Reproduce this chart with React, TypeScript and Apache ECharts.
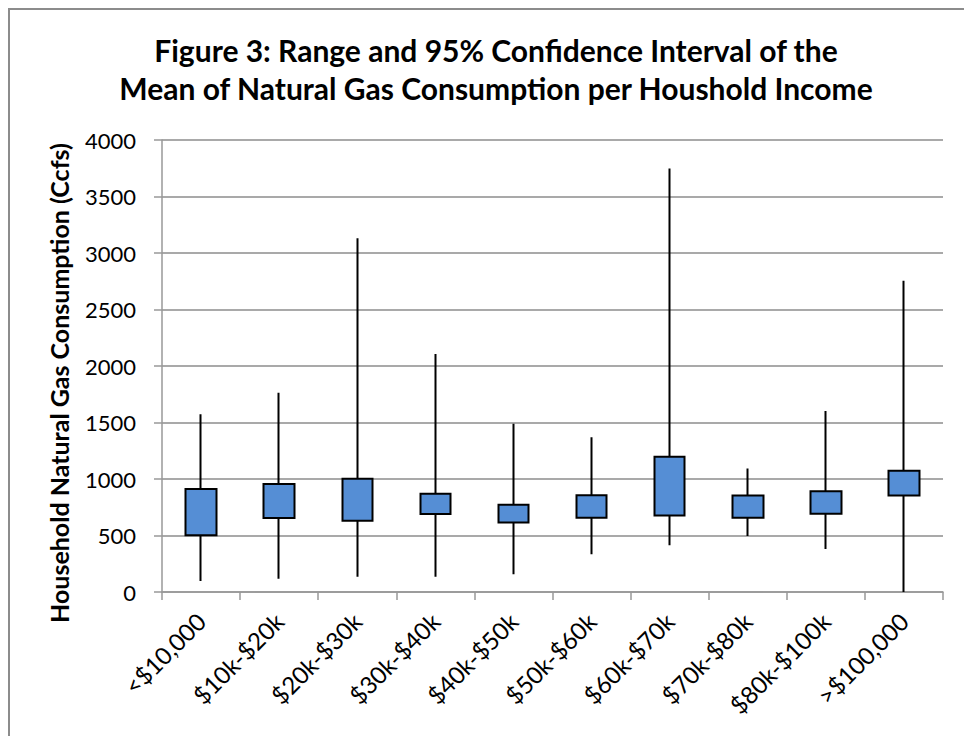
import React, { useEffect, useRef } from "react";
import * as echarts from "echarts";

const categories = [
  "<$10,000",
  "$10k-$20k",
  "$20k-$30k",
  "$30k-$40k",
  "$40k-$50k",
  "$50k-$60k",
  "$60k-$70k",
  "$70k-$80k",
  "$80k-$100k",
  ">$100,000",
];
const ciLow = [502, 655, 631, 690, 614, 658, 676, 658, 693, 853];
const ciHigh = [912, 956, 1003, 870, 773, 856, 1198, 853, 891, 1074];
const rangeMin = [97, 118, 136, 136, 156, 333, 413, 496, 381, 0];
const rangeMax = [1572, 1764, 3130, 2106, 1490, 1369, 3747, 1094, 1602, 2755];

const FONT = "Lato";
const Y_NAME = "Household Natural Gas Consumption (Ccfs)";

export default function App() {
  const ref = useRef<HTMLDivElement>(null);
  useEffect(() => {
    if (!ref.current) return;
    const chart = echarts.init(ref.current, null, { renderer: "svg" });
    const data = categories.map((_, i) => [ciLow[i], ciHigh[i], rangeMin[i], rangeMax[i]]);
    chart.setOption({
      animation: false,
      backgroundColor: "#fff",
      title: {
        text: "Figure 3: Range and 95% Confidence Interval of the\nMean of Natural Gas Consumption per Houshold Income",
        left: 491,
        textAlign: "center",
        top: 26,
        textStyle: {
          fontFamily: FONT,
          fontWeight: "bold",
          fontSize: 30,
          lineHeight: 38,
          color: "#000",
        },
      },
      graphic: [
        {
          type: "rect",
          shape: { x: 9, y: 9, width: 1000, height: 800 },
          style: { fill: "none", stroke: "#8c8c8c", lineWidth: 2 },
          silent: true,
        },
        {
          type: "text",
          x: 59,
          y: 383,
          rotation: Math.PI / 2,
          silent: true,
          style: {
            text: Y_NAME,
            fontFamily: FONT,
            fontWeight: "bold",
            fontSize: 25,
            fill: "#000",
            align: "center",
            verticalAlign: "middle",
          },
        },
      ],
      grid: { left: 162, right: 21, top: 140, bottom: 144, containLabel: false },
      xAxis: {
        type: "category",
        data: categories,
        boundaryGap: true,
        axisLine: { show: true, lineStyle: { color: "#999", width: 1.5 } },
        axisTick: { show: true, length: 8, lineStyle: { color: "#999", width: 1.5 } },
        axisLabel: {
          rotate: 45,
          interval: 0,
          margin: 25,
          fontFamily: FONT,
          fontSize: 24,
          color: "#000",
        },
        splitLine: { show: false },
      },
      yAxis: {
        type: "value",
        min: 0,
        max: 4000,
        interval: 500,
        axisLine: { show: true, lineStyle: { color: "#999", width: 1.5 } },
        axisTick: { show: true, length: 8, lineStyle: { color: "#999", width: 1.5 } },
        axisLabel: {
          margin: 26,
          fontFamily: FONT,
          fontSize: 22,
          color: "#000",
          formatter: (v: number) => String(v),
        },
        splitLine: { show: true, lineStyle: { color: "#8c8c8c", width: 1.5 } },
      },
      series: [
        {
          type: "candlestick",
          data,
          barWidth: 31,
          itemStyle: {
            color: "#558ED5",
            color0: "#558ED5",
            borderColor: "#000",
            borderColor0: "#000",
            borderWidth: 2,
          },
        },
      ],
    });
    return () => chart.dispose();
  }, []);
  return (
    <div
      ref={ref}
      style={{ position: "absolute", left: 0, top: 0, width: 964, height: 736 }}
    />
  );
}
